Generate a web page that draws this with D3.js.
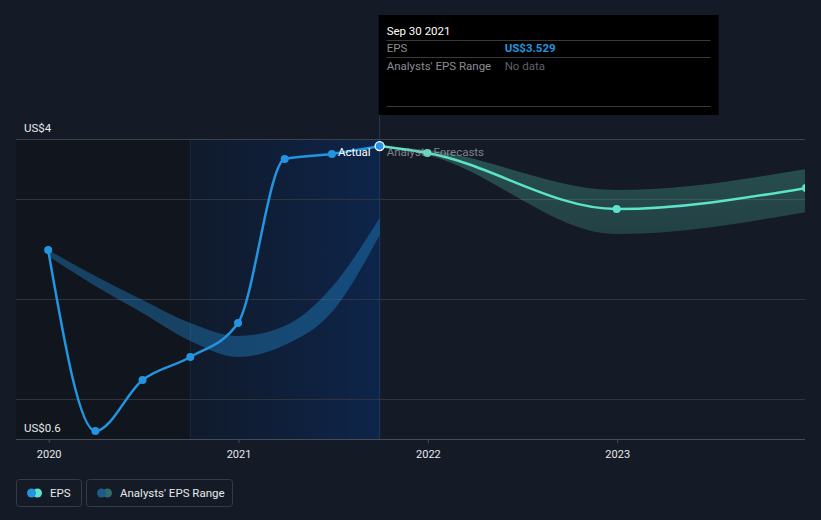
<!DOCTYPE html>
<html>
<head>
<meta charset="utf-8">
<script src="https://cdn.jsdelivr.net/npm/d3@7"></script>
<style>
body{margin:0;background:#151b26;}
svg{display:block;font-family:Roboto,"Open Sans",sans-serif;}
</style>
</head>
<body>
<svg id="chart" width="821" height="520"></svg>
<script>
// EPS history (quarterly) and analyst forecasts, values in US$
var actualDates = ["2019-12-31","2020-03-31","2020-06-30","2020-09-30","2020-12-31","2021-03-31","2021-06-30","2021-09-30"];
var actualEps = [2.49, 0.68, 1.19, 1.42, 1.76, 3.40, 3.45, 3.529];

var pastRangeDates = ["2019-12-31","2020-03-31","2020-06-30","2020-09-30","2020-12-31","2021-03-31","2021-06-30","2021-09-30"];
var pastRangeLow  = [2.43, 2.13, 1.86, 1.58, 1.42, 1.54, 1.87, 2.64];
var pastRangeHigh = [2.49, 2.23, 1.99, 1.76, 1.63, 1.73, 2.12, 2.81];

var forecastDates = ["2021-09-30","2021-12-31","2022-12-31","2023-12-31"];
var forecastEps = [3.529, 3.46, 2.90, 3.11];
var forecastLow  = [3.529, 3.44, 2.65, 2.87];
var forecastHigh = [3.529, 3.49, 3.09, 3.30];

var yearTicks = [2020, 2021, 2022, 2023];
var gridValues = [1, 2, 3];
var yLabelValues = [3.6, 0.6];
var yLabels = ["US$4", "US$0.6"];
var highlightStart = "2020-09-30";

var blue = "#2394df";
var teal = "#5de3c9";
var gridColor = "#2f343e";
var plotLeft = 16, plotRight = 805, plotTop = 139, plotBottom = 439;

var parse = d3.timeParse("%Y-%m-%d");
var svg = d3.select("#chart");

var x = d3.scaleTime()
  .domain([new Date(2019, 9, 30), new Date(2023, 11, 29)])
  .range([plotLeft, plotRight]);
var y = d3.scaleLinear()
  .domain([0.6, 3.6])
  .range([plotBottom, plotTop]);

var lastDate = parse(actualDates[actualDates.length - 1]);
var lastEps = actualEps[actualEps.length - 1];

var defs = svg.append("defs");
defs.append("clipPath").attr("id", "plot")
  .append("rect").attr("x", plotLeft).attr("y", 0).attr("width", plotRight - plotLeft).attr("height", plotBottom);
var grad = defs.append("linearGradient").attr("id", "hl");
grad.append("stop").attr("offset", "0%").attr("stop-color", "#0f2a55").attr("stop-opacity", 0.25);
grad.append("stop").attr("offset", "100%").attr("stop-color", "#0c2f66").attr("stop-opacity", 0.62);
var fgrad = defs.append("linearGradient").attr("id", "fc")
  .attr("x1", 0).attr("x2", 0).attr("y1", 0).attr("y2", 1);
fgrad.append("stop").attr("offset", "0%").attr("stop-color", teal).attr("stop-opacity", 0.27);
fgrad.append("stop").attr("offset", "100%").attr("stop-color", teal).attr("stop-opacity", 0.19);

// past area shading
svg.append("rect")
  .attr("x", plotLeft).attr("y", plotTop)
  .attr("width", x(lastDate) - plotLeft).attr("height", plotBottom - plotTop)
  .attr("fill", "#000").attr("opacity", 0.2);

svg.append("rect")
  .attr("x", x(parse(highlightStart))).attr("y", plotTop)
  .attr("width", x(lastDate) - x(parse(highlightStart))).attr("height", plotBottom - plotTop)
  .attr("fill", "url(#hl)");
svg.append("line")
  .attr("x1", x(parse(highlightStart))).attr("x2", x(parse(highlightStart)))
  .attr("y1", plotTop).attr("y2", plotBottom)
  .attr("stroke", "#1a2b44").attr("stroke-width", 1);
svg.append("line")
  .attr("x1", x(lastDate)).attr("x2", x(lastDate))
  .attr("y1", 115).attr("y2", plotBottom)
  .attr("stroke", "#1d3a5f").attr("stroke-width", 1);

// grid
svg.append("g").selectAll("line")
  .data(gridValues.concat([3.6]))
  .enter().append("line")
  .attr("x1", plotLeft).attr("x2", plotRight)
  .attr("y1", d => Math.round(y(d)) + 0.5).attr("y2", d => Math.round(y(d)) + 0.5)
  .attr("stroke", d => d == 3.6 ? "#3d424c" : gridColor);

var plot = svg.append("g").attr("clip-path", "url(#plot)");

var area = d3.area()
  .x(d => x(d.date)).y0(d => y(d.lo)).y1(d => y(d.hi))
  .curve(d3.curveMonotoneX);

var pastRange = pastRangeDates.map((d, i) => ({date: parse(d), lo: pastRangeLow[i], hi: pastRangeHigh[i]}));
var fcRange = forecastDates.map((d, i) => ({date: parse(d), lo: forecastLow[i], hi: forecastHigh[i]}));

plot.append("path").datum(pastRange)
  .attr("d", area).attr("fill", blue).attr("opacity", 0.36);
plot.append("path").datum(fcRange)
  .attr("d", area).attr("fill", "url(#fc)");

// x axis
var xAxis = svg.append("g")
  .attr("transform", "translate(0," + plotBottom + ")")
  .call(d3.axisBottom(x)
    .tickValues(yearTicks.map(yr => new Date(yr, 0, 1)))
    .tickFormat(d3.timeFormat("%Y"))
    .tickSize(4));
xAxis.select(".domain").attr("d", "M" + plotLeft + ",0.5H" + plotRight).attr("stroke", "#474c56");
xAxis.selectAll(".tick line").attr("stroke", "#474c56");
xAxis.selectAll("text").attr("fill", "#e6e8eb").attr("font-size", 11).attr("dy", "1.05em")
  .attr("font-family", "Roboto");

// lines
var line = d3.line()
  .x(d => x(d.date)).y(d => y(d.v))
  .curve(d3.curveMonotoneX);

var actual = actualDates.map((d, i) => ({date: parse(d), v: actualEps[i]}));
var forecast = forecastDates.map((d, i) => ({date: parse(d), v: forecastEps[i]}));

plot.append("path").datum(forecast)
  .attr("d", line).attr("fill", "none").attr("stroke", teal).attr("stroke-width", 2.5);
plot.append("path").datum(actual)
  .attr("d", line).attr("fill", "none").attr("stroke", blue).attr("stroke-width", 2.5);

plot.selectAll(".fpt")
  .data(forecast.slice(1))
  .enter().append("circle")
  .attr("cx", d => x(d.date)).attr("cy", d => y(d.v)).attr("r", 4)
  .attr("fill", teal);

plot.selectAll(".apt")
  .data(actual.slice(0, -1))
  .enter().append("circle")
  .attr("cx", d => x(d.date)).attr("cy", d => y(d.v)).attr("r", 4)
  .attr("fill", blue);

plot.append("circle")
  .attr("cx", x(lastDate)).attr("cy", y(lastEps)).attr("r", 4.5)
  .attr("fill", blue).attr("stroke", "#fff").attr("stroke-width", 1.3);

// labels
svg.append("text")
  .attr("x", x(lastDate) - 9).attr("y", y(lastEps) + 10)
  .attr("text-anchor", "end").attr("fill", "#fff").attr("font-size", 11.5)
  .text("Actual");
svg.append("text")
  .attr("x", x(lastDate) + 7).attr("y", y(lastEps) + 10)
  .attr("fill", "#a0a4ab").attr("opacity", 0.75).attr("font-size", 11.5)
  .text("Analysts Forecasts");

svg.selectAll(".ylab")
  .data(yLabelValues)
  .enter().append("text")
  .attr("x", 24).attr("y", d => y(d) - 7)
  .attr("fill", "#e6e8eb").attr("font-size", 11.5)
  .text((d, i) => yLabels[i]);

// tooltip
var tip = svg.append("g").attr("transform", "translate(" + (x(lastDate) - 1) + ",15)");
tip.append("rect").attr("width", 340).attr("height", 100).attr("fill", "#000");
tip.selectAll(".sep")
  .data([25, 42, 91])
  .enter().append("line")
  .attr("x1", 8).attr("x2", 332).attr("y1", d => d + 0.5).attr("y2", d => d + 0.5)
  .attr("stroke", "#3a3a3a");
tip.append("text").attr("x", 8).attr("y", 20).attr("fill", "#fff").attr("font-size", 11.5)
  .text(d3.timeFormat("%b %d %Y")(lastDate));
tip.append("text").attr("x", 8).attr("y", 37).attr("fill", "#8a8d92").attr("font-size", 11.5).text("EPS");
tip.append("text").attr("x", 126).attr("y", 37).attr("fill", blue).attr("font-size", 11.5)
  .attr("font-weight", "bold").text("US$" + lastEps);
tip.append("text").attr("x", 8).attr("y", 55).attr("fill", "#8a8d92").attr("font-size", 11.5).text("Analysts' EPS Range");
tip.append("text").attr("x", 126).attr("y", 55).attr("fill", "#5f6267").attr("font-size", 11.5).text("No data");

// legend
var legendItems = [
  {label: "EPS", c1: blue, c2: teal, w: 66},
  {label: "Analysts' EPS Range", c1: "#1f5a8b", c2: "#2f6b6b", w: 147}
];
var lx = 16;
legendItems.forEach(function(it) {
  var g = svg.append("g").attr("transform", "translate(" + lx + ",479)");
  g.append("rect").attr("x", 0.5).attr("y", 0.5).attr("width", it.w - 1).attr("height", 27)
    .attr("rx", 3).attr("fill", "none").attr("stroke", "#363b45");
  g.append("circle").attr("cx", 21.5).attr("cy", 14).attr("r", 4.5).attr("fill", it.c2);
  g.append("circle").attr("cx", 15.5).attr("cy", 14).attr("r", 4.5).attr("fill", it.c1);
  g.append("text").attr("x", 34).attr("y", 18).attr("fill", "#e6e8eb").attr("font-size", 11.5).text(it.label);
  lx += it.w + 4;
});
</script>
</body>
</html>
